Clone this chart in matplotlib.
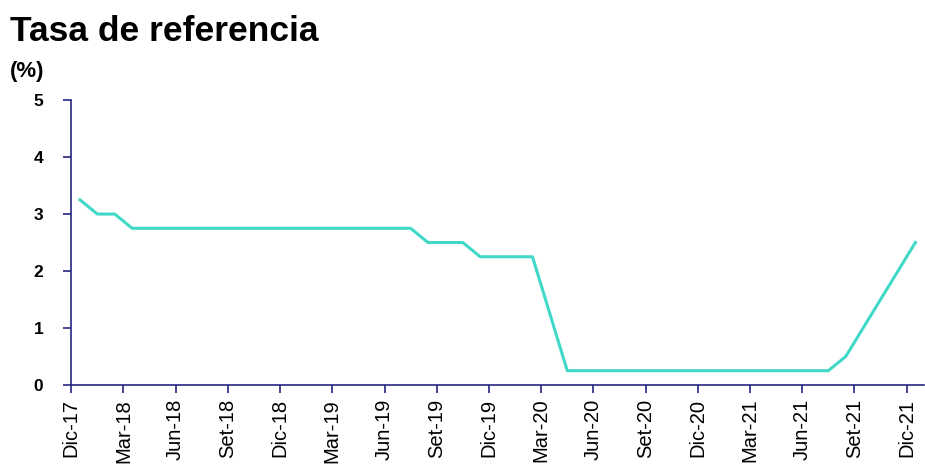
import matplotlib
matplotlib.use("Agg")
import numpy as np
from matplotlib import pyplot as plt

# monthly reference rate, Dic-17 .. Dic-21 (%)
tasa = [3.25, 3.00, 3.00, 2.75, 2.75, 2.75, 2.75, 2.75, 2.75, 2.75, 2.75, 2.75, 2.75,
        2.75, 2.75, 2.75, 2.75, 2.75, 2.75, 2.75, 2.50, 2.50, 2.50, 2.25, 2.25,
        2.25, 2.25, 1.25, 0.25, 0.25, 0.25, 0.25, 0.25, 0.25, 0.25, 0.25, 0.25,
        0.25, 0.25, 0.25, 0.25, 0.25, 0.25, 0.25, 0.50, 1.00, 1.50, 2.00, 2.50]
tick_labels = ["Dic-17", "Mar-18", "Jun-18", "Set-18", "Dic-18", "Mar-19", "Jun-19",
               "Set-19", "Dic-19", "Mar-20", "Jun-20", "Set-20", "Dic-20", "Mar-21",
               "Jun-21", "Set-21", "Dic-21"]

plt.rcParams['font.family'] = ['Liberation Sans', 'DejaVu Sans']
axis_color = '#25257f'

fig = plt.figure(figsize=(9.25, 4.7), dpi=100)
ax = fig.add_axes([0.077, 0.181, 0.922, 0.606])

months = np.arange(len(tasa)) + 0.5
ax.plot(months, tasa, color='#40d9c8', linewidth=2.2)

ax.set_xlim(0, len(tasa))
ax.set_ylim(0, 5)
ax.set_yticks(range(0, 6))
ax.set_xticks(np.arange(0, len(tasa), 3))
ax.set_xticklabels(tick_labels, rotation=90, fontsize=14.5)
for lbl in ax.get_yticklabels():
    lbl.set_fontweight('bold')
    lbl.set_fontsize(12.5)

for side in ['top', 'right']:
    ax.spines[side].set_visible(False)
for side in ['left', 'bottom']:
    ax.spines[side].set_color(axis_color)
    ax.spines[side].set_linewidth(1.2)
ax.tick_params(axis='both', colors=axis_color, length=6, width=1.2, labelcolor='black')
ax.tick_params(axis='y', pad=14)
ax.tick_params(axis='x', pad=4)

fig.text(0.011, 1 - 41 / 470, 'Tasa de referencia', fontsize=25.5, fontweight='bold',
         va='baseline', ha='left')
fig.text(0.011, 1 - 77 / 470, '(%)', fontsize=16, fontweight='bold',
         va='baseline', ha='left')

fig.savefig('out.png', dpi=100)
